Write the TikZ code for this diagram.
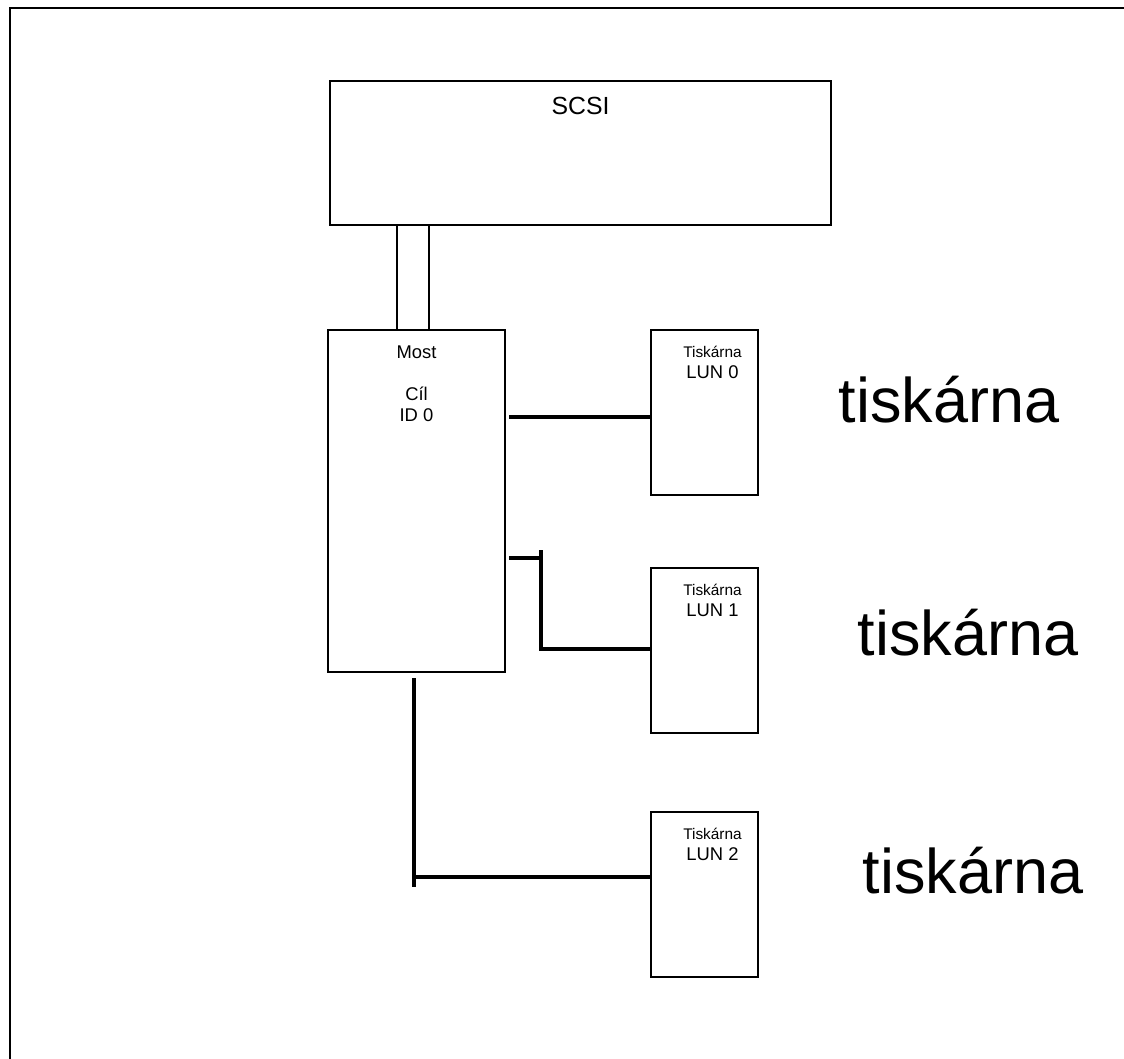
\documentclass[tikz,border=0pt]{standalone}
\usepackage{fontspec}
\setmainfont{Liberation Sans}
\usetikzlibrary{positioning}

\tikzset{
	box/.style={draw, line width=1pt, anchor=north west, inner sep=0pt},
	lunbox/.style={box, minimum width=53.5pt, minimum height=82.5pt},
	wire/.style={line width=1.8pt},
	thinwire/.style={line width=1pt},
	txt/.style={inner sep=0pt, align=center},
	bigtxt/.style={inner sep=0pt, anchor=base, font=\fontsize{31.5}{36}\selectfont}
}

\begin{document}
\begin{tikzpicture}[x=0.5pt, y=-0.5pt]
	\useasboundingbox (0,0) rectangle (1124,1059);

	% Frame
	\draw[line width=1.3pt] (10,1059) -- (10,8) -- (1124,8);

	% Boxes
	\node[box, minimum width=250.5pt, minimum height=72pt] (scsi) at (329,80) {};
	\node[box, minimum width=88.5pt, minimum height=171pt] (most) at (327,329) {};
	\node[lunbox] (lun0) at (650,329) {};
	\node[lunbox] (lun1) at (650,567) {};
	\node[lunbox] (lun2) at (650,811) {};

	% Box texts
	\node[txt, below=8.5pt of scsi.north, font=\fontsize{12.4}{14}\selectfont] (scsitxt) {SCSI};
	\node[txt, below=8pt of most.north, font=\fontsize{9.2}{10.5}\selectfont] (mosttxt) {Most\\ \\Cíl\\ID 0};
	\node[txt, below=8.5pt of lun0.north, xshift=4pt, font=\fontsize{7.7}{9}\selectfont] (tisk0) {Tiskárna};
	\node[txt, below=18pt of lun0.north, xshift=4pt, font=\fontsize{9.2}{10}\selectfont] (lunno0) {LUN 0};
	\node[txt, below=8.5pt of lun1.north, xshift=4pt, font=\fontsize{7.7}{9}\selectfont] (tisk1) {Tiskárna};
	\node[txt, below=18pt of lun1.north, xshift=4pt, font=\fontsize{9.2}{10}\selectfont] (lunno1) {LUN 1};
	\node[txt, below=8.5pt of lun2.north, xshift=4pt, font=\fontsize{7.7}{9}\selectfont] (tisk2) {Tiskárna};
	\node[txt, below=18pt of lun2.north, xshift=4pt, font=\fontsize{9.2}{10}\selectfont] (lunno2) {LUN 2};

	% Big labels
	\node[bigtxt] (lab0) at (949,422) {tiskárna};
	\node[bigtxt] (lab1) at (968,655) {tiskárna};
	\node[bigtxt] (lab2) at (973,893) {tiskárna};

	% Bus from SCSI to bridge
	\coordinate (bus1) at (397,250);
	\coordinate (bus2) at (429,250);
	\draw[thinwire] (bus1 |- scsi.south) -- (bus1 |- most.north);
	\draw[thinwire] (bus2 |- scsi.south) -- (bus2 |- most.north);

	% LUN 0
	\coordinate (t0) at (509,417);
	\draw[wire] (t0) -- (t0 -| lun0.west);

	% LUN 1
	\coordinate (t1) at (509,558);
	\coordinate (j1) at (541,550);
	\coordinate (k1) at (541,649);
	\draw[wire] (t1) -- (t1 -| j1);
	\draw[wire] (j1) -- (k1) -- (k1 -| lun1.west);

	% LUN 2
	\coordinate (j2) at (414,678);
	\coordinate (j3) at (414,887);
	\coordinate (k2) at (414,877);
	\draw[wire] (j2) -- (j3);
	\draw[wire] (k2) -- (k2 -| lun2.west);

\end{tikzpicture}
\end{document}
